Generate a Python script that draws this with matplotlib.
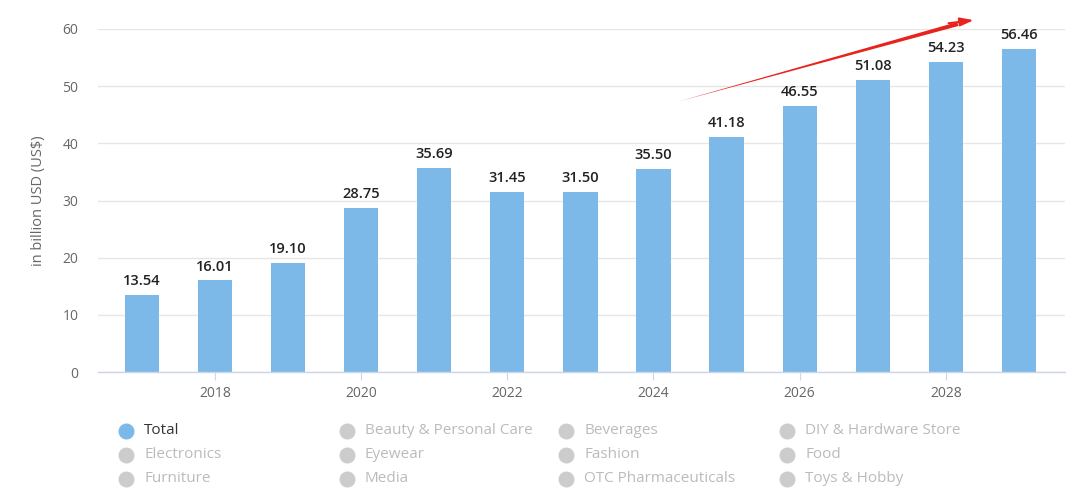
import matplotlib
matplotlib.use("Agg")
import matplotlib.pyplot as plt
from matplotlib.lines import Line2D

years = [2017, 2018, 2019, 2020, 2021, 2022, 2023, 2024, 2025, 2026, 2027, 2028, 2029]
values = [13.54, 16.01, 19.10, 28.75, 35.69, 31.45, 31.50, 35.50, 41.18, 46.55, 51.08, 54.23, 56.46]
xticks = [2018, 2020, 2022, 2024, 2026, 2028]
yticks = [0, 10, 20, 30, 40, 50, 60]
legend_cols = [
    ["Total", "Electronics", "Furniture"],
    ["Beauty & Personal Care", "Eyewear", "Media"],
    ["Beverages", "Fashion", "OTC Pharmaceuticals"],
    ["DIY & Hardware Store", "Food", "Toys & Hobby"],
]
ylabel = "in billion USD (US$)"

plt.rcParams['font.family'] = ['Open Sans', 'DejaVu Sans']

W, H = 1080, 503
fig = plt.figure(figsize=(W / 100, H / 100), dpi=100)
ax = fig.add_axes([98 / W, 1 - 372 / H, (1065 - 98) / W, (372 - 29) / H])

bar_color = '#7cb9e8'
ax.bar(years, values, width=0.47, color=bar_color, zorder=2)
for x, v in zip(years, values):
    ax.text(x, v + 1.2, f"{v:.2f}", ha='center', va='bottom', fontsize=10.5,
            fontweight='semibold', color='#222222', zorder=3)

ax.set_xlim(2016.4, 2029.63)
ax.set_ylim(0, 60)
ax.set_yticks(yticks)
ax.set_xticks(xticks)
ax.set_xticklabels([str(t) for t in xticks])
ax.grid(axis='y', color='#e6e6e6', linewidth=1, zorder=0)
for s in ['top', 'right', 'left']:
    ax.spines[s].set_visible(False)
ax.spines['bottom'].set_color('#ccd6eb')
ax.spines['bottom'].set_linewidth(1)
ax.tick_params(axis='y', length=0, labelsize=10, labelcolor='#666666', pad=14)
ax.tick_params(axis='x', length=6, color='#ccd6eb', labelsize=10, labelcolor='#666666', pad=4)
ax.set_ylabel(ylabel, fontsize=10.5, color='#666666', labelpad=12)

# red trend arrow (annotation)
ax.annotate("", xy=(2024.31, 47.2), xytext=(2028.2, 61.0),
            arrowprops=dict(arrowstyle="wedge,tail_width=0.3,shrink_factor=0.5",
                            color='#e8231d', lw=0), annotation_clip=False)
ax.annotate("", xy=(2028.42, 61.6), xytext=(2028.0, 60.95),
            arrowprops=dict(arrowstyle="-|>,head_length=0.8,head_width=0.25",
                            color='#e8231d', lw=1.5), annotation_clip=False)

# legend
col_x = [126, 347, 566, 787]
row_y = [431, 455, 479]
for ci, col in enumerate(legend_cols):
    for ri, name in enumerate(col):
        active = (ci == 0 and ri == 0)
        mc = bar_color if active else '#cccccc'
        tc = '#333333' if active else '#bbbbbb'
        fx = col_x[ci] / W
        fy = 1 - row_y[ri] / H
        fig.add_artist(Line2D([fx], [fy], marker='o', markersize=10.5, color=mc,
                              linestyle='none', transform=fig.transFigure))
        fig.text(fx + 18 / W, fy, name, fontsize=11, color=tc, va='center', ha='left')

fig.savefig("out.png", dpi=100, facecolor='white')
